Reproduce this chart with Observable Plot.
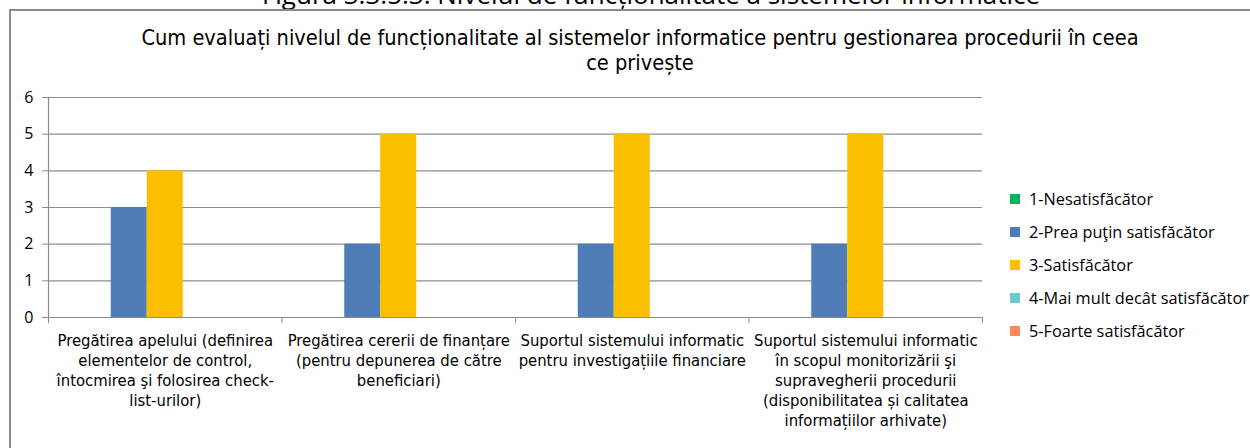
<!DOCTYPE html>
<html>
<head>
<meta charset="utf-8">
<script src="https://cdn.jsdelivr.net/npm/d3@7"></script>
<script src="https://cdn.jsdelivr.net/npm/@observablehq/plot@0.6"></script>
<style>
  html, body { margin: 0; padding: 0; background: #fff; overflow: hidden; }
  #wrap { position: relative; width: 1250px; height: 448px; overflow: hidden; }
  #caption { position: absolute; left: 0; width: 1302px; top: -23px; text-align: center; line-height: 35px;
    font-family: "Open Sans", sans-serif; font-size: 26px; color: #000; white-space: nowrap; }
  #box { position: absolute; left: 9px; top: 9px; width: 1300px; height: 500px; border: 2px solid #8a8a8a; box-sizing: border-box; }
  #title { position: absolute; left: 0; width: 1280px; top: 25px; text-align: center;
    font-family: "Liberation Sans Narrow", "DejaVu Sans Condensed", sans-serif; font-size: 21.6px; line-height: 25px; color: #000; }
  #chart { position: absolute; left: 0; top: 0; }
  #legend { position: absolute; left: 1010px; top: 182px; font-family: "Open Sans", sans-serif; font-size: 16.3px; color: #000; }
  .li { height: 33px; display: flex; align-items: center; white-space: nowrap; margin-top: 0; }
  .sw { width: 10px; height: 10px; margin-right: 9px; display: inline-block; flex: none; }
</style>
</head>
<body>
<div id="wrap">
  <div id="caption"></div>
  <div id="box"></div>
  <div id="chart"></div>
  <div id="title"></div>
  <div id="legend"></div>
</div>
<script>
const figureCaption = "Figura 3.3.5.3: Nivelul de funcționalitate a sistemelor informatice";
const chartTitle = ["Cum evaluați nivelul de funcționalitate al sistemelor informatice pentru gestionarea procedurii în ceea", "ce privește"];

const categories = [
  "Pregătirea apelului (definirea\nelementelor de control,\nîntocmirea şi folosirea check-\nlist-urilor)",
  "Pregătirea cererii de finanțare\n(pentru depunerea de către\nbeneficiari)",
  "Suportul sistemului informatic\npentru investigațiile financiare",
  "Suportul sistemului informatic\nîn scopul monitorizării şi\nsupravegherii procedurii\n(disponibilitatea și calitatea\ninformațiilor arhivate)"
];
const seriesNames = [
  "1-Nesatisfăcător",
  "2-Prea puţin satisfăcător",
  "3-Satisfăcător",
  "4-Mai mult decât satisfăcător",
  "5-Foarte satisfăcător"
];
const seriesColors = ["#00b35c", "#4f7db8", "#fbbf00", "#6cc9cd", "#fb8a57"];
const nesatisfacator = [0, 0, 0, 0];
const preaPutin = [3, 2, 2, 2];
const satisfacator = [4, 5, 5, 5];
const maiMult = [0, 0, 0, 0];
const foarte = [0, 0, 0, 0];
const yTicks = [0, 1, 2, 3, 4, 5, 6];

const seriesValues = [nesatisfacator, preaPutin, satisfacator, maiMult, foarte];

// Build table
const rows = [];
seriesValues.forEach((vals, si) => {
  vals.forEach((v, ci) => rows.push({category: ci, series: seriesNames[si], si, value: v}));
});

// group layout: categories on a linear axis (one unit per category), bars within
const nS = seriesNames.length;
const barW = 36 / 233.5;
const pad = (1 - nS * barW) / 2;
const bars = rows.filter(d => d.value > 0).map(d => ({
  ...d,
  x1: d.category + pad + d.si * barW,
  x2: d.category + pad + (d.si + 1) * barW
}));
const labelData = categories.map((c, i) => ({pos: i + 0.5, label: c}));

const plot = Plot.plot({
  width: 1250,
  height: 448,
  marginLeft: 48,
  marginRight: 268,
  marginTop: 97,
  marginBottom: 131,
  style: {background: "transparent", fontFamily: "'Open Sans', sans-serif", fontSize: "16px", color: "#000", overflow: "visible"},
  x: {domain: [0, categories.length]},
  y: {domain: [0, 6]},
  color: {domain: seriesNames, range: seriesColors},
  marks: [
    Plot.gridY(yTicks, {stroke: "#8c8c8c", strokeOpacity: 1, strokeWidth: 1.2}),
    Plot.axisY({ticks: yTicks, tickFormat: d3.format("d"), tickSize: 6, tickPadding: 9, stroke: "#8c8c8c", fontSize: 16, fill: "#000", label: null}),
    Plot.axisX({ticks: d3.range(categories.length + 1), tickSize: 6, tickFormat: () => "", stroke: "#8c8c8c", label: null}),
    Plot.rect(bars, {x1: "x1", x2: "x2", y1: 0, y2: "value", fill: "series"}),
    Plot.ruleX([0], {stroke: "#8c8c8c", strokeWidth: 1.2}),
    Plot.ruleY([0], {stroke: "#8c8c8c", strokeWidth: 1.2}),
    Plot.text(labelData, {
      x: "pos", y: 0, text: "label", dy: 14, lineAnchor: "top", lineHeight: 1.22,
      fontSize: 16.5, fill: "#000",
      fontFamily: "'Liberation Sans Narrow', 'DejaVu Sans Condensed', sans-serif"
    })
  ]
});
document.getElementById("chart").appendChild(plot);

document.getElementById("caption").textContent = figureCaption;
const t = document.getElementById("title");
chartTitle.forEach(line => { const d = document.createElement("div"); d.textContent = line; t.appendChild(d); });

const lg = document.getElementById("legend");
seriesNames.forEach((s, i) => {
  const row = document.createElement("div");
  row.className = "li";
  const sw = document.createElement("span");
  sw.className = "sw";
  sw.style.background = seriesColors[i];
  row.appendChild(sw);
  row.appendChild(document.createTextNode(s));
  lg.appendChild(row);
});
</script>
</body>
</html>
